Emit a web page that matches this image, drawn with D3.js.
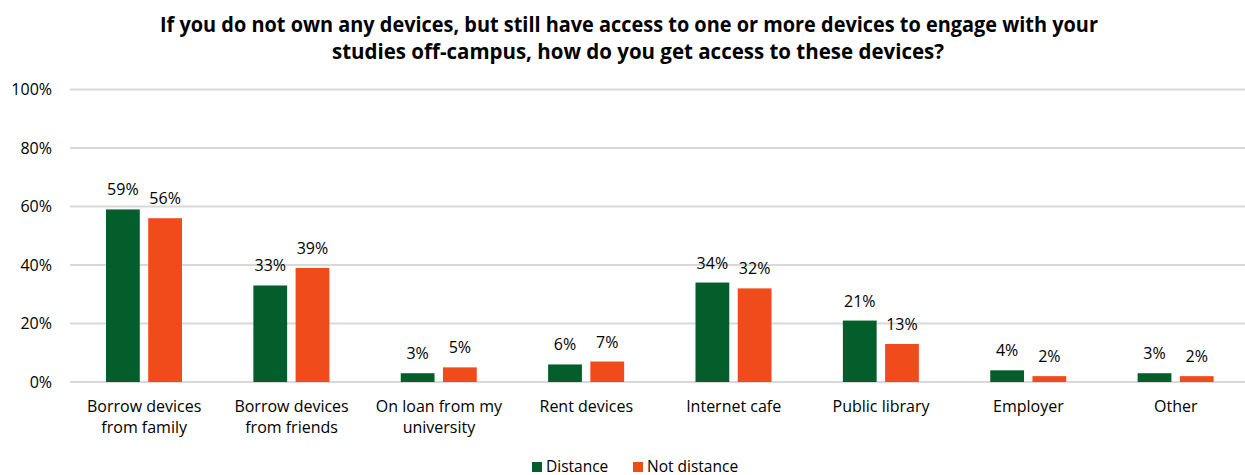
<!DOCTYPE html>
<html>
<head>
<meta charset="utf-8">
<script src="https://cdn.jsdelivr.net/npm/d3@7"></script>
<style>
  body { margin: 0; background: #fff; }
  svg { display: block; font-family: 'Open Sans', sans-serif; }
</style>
</head>
<body>
<div id="chart"></div>
<script>
const categories = [
  ['Borrow devices', 'from family'],
  ['Borrow devices', 'from friends'],
  ['On loan from my', 'university'],
  ['Rent devices'],
  ['Internet cafe'],
  ['Public library'],
  ['Employer'],
  ['Other']
]
const seriesNames = ['Distance', 'Not distance']
const distance = [59, 33, 3, 6, 34, 21, 4, 3]
const notDistance = [56, 39, 5, 7, 32, 13, 2, 2]
const yTicks = [0, 20, 40, 60, 80, 100]
const titleLines = [
  'If you do not own any devices, but still have access to one or more devices to engage with your',
  'studies off-campus, how do you get access to these devices?'
]
const colors = ['#035E2C', '#F04B1A']

const width = 1245
const height = 475

const svg = d3.select('#chart')
  .append('svg')
  .attr('width', width)
  .attr('height', height)

// title, stretched to the width the original uses
const titlePos = [
  { x: 160, y: 31.5, len: 938 },
  { x: 332, y: 58.5, len: 612 }
]
svg.append('g')
  .selectAll('text')
  .data(titleLines)
  .enter()
  .append('text')
  .attr('x', (d, i) => titlePos[i].x)
  .attr('y', (d, i) => titlePos[i].y)
  .attr('textLength', (d, i) => titlePos[i].len)
  .attr('lengthAdjust', 'spacingAndGlyphs')
  .style('font-size', '21px')
  .style('font-weight', 700)
  .style('fill', '#000')
  .text(d => d)

const y = d3.scaleLinear().domain([0, 100]).range([382, 89.5])
const idx = d3.range(categories.length)
const x0 = d3.scaleBand().domain(idx).range([70.5, 1249.5]).paddingInner(0).paddingOuter(0)
const x1 = d3.scaleBand().domain([0, 1]).range([35.5, 111.5]).paddingInner(0.2)

// gridlines
svg.append('g')
  .selectAll('line')
  .data(yTicks)
  .enter()
  .append('line')
  .attr('x1', 70)
  .attr('x2', width)
  .attr('y1', d => y(d))
  .attr('y2', d => y(d))
  .attr('stroke', '#d9d9d9')
  .attr('stroke-width', 2)

// y axis labels
svg.append('g')
  .selectAll('text')
  .data(yTicks)
  .enter()
  .append('text')
  .attr('x', 52)
  .attr('y', d => y(d) + 5.5)
  .attr('text-anchor', 'end')
  .style('font-size', '16px')
  .style('fill', '#000')
  .text(d => d + '%')

const rows = idx.map(i => [distance[i], notDistance[i]])

const groups = svg.append('g')
  .selectAll('g')
  .data(rows)
  .enter()
  .append('g')
  .attr('transform', (d, i) => `translate(${x0(i)},0)`)

groups.selectAll('rect')
  .data(d => d)
  .enter()
  .append('rect')
  .attr('x', (d, j) => x1(j))
  .attr('width', x1.bandwidth())
  .attr('y', d => y(d))
  .attr('height', d => y(0) - y(d))
  .attr('fill', (d, j) => colors[j])

groups.selectAll('text.value')
  .data(d => d)
  .enter()
  .append('text')
  .attr('class', 'value')
  .attr('x', (d, j) => x1(j) + x1.bandwidth() / 2)
  .attr('y', d => y(d) - 14)
  .attr('text-anchor', 'middle')
  .style('font-size', '16px')
  .style('fill', '#000')
  .text(d => d + '%')

// category labels
groups.append('text')
  .attr('text-anchor', 'middle')
  .style('font-size', '16px')
  .style('fill', '#000')
  .selectAll('tspan')
  .data((d, i) => categories[i])
  .enter()
  .append('tspan')
  .attr('x', x0.bandwidth() / 2)
  .attr('y', (d, k) => 412 + k * 21)
  .text(d => d)

// legend
const legendX = [532, 633]
const legend = svg.append('g')
  .selectAll('g')
  .data(seriesNames)
  .enter()
  .append('g')
  .attr('transform', (d, i) => `translate(${legendX[i]},0)`)

legend.append('rect')
  .attr('x', 0)
  .attr('y', 462)
  .attr('width', 10)
  .attr('height', 10)
  .attr('fill', (d, i) => colors[i])

legend.append('text')
  .attr('x', 14)
  .attr('y', 471.5)
  .style('font-size', '15.5px')
  .style('fill', '#000')
  .text(d => d)
</script>
</body>
</html>
